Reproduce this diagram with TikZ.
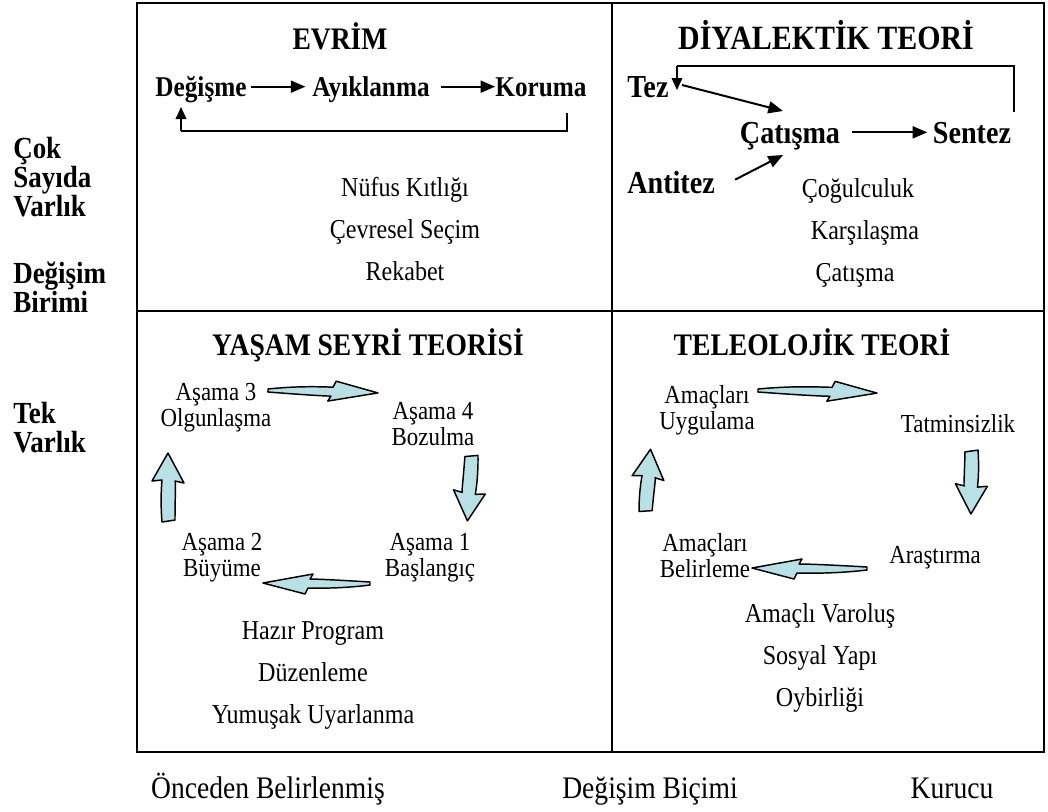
\documentclass[tikz,border=0pt]{standalone}
\usepackage{fontspec}
\setmainfont{Liberation Serif}[FakeStretch=0.88]
\usetikzlibrary{arrows.meta,calc}
\definecolor{cyanfill}{RGB}{185,224,228}

% flat block arrow of the cycle (left-right), tail at (0,0), tip at (#1,0)
\newcommand\hcycpath[1]{(0,-1) .. controls ({0.3*#1},-5) and ({0.5*#1},-4) .. ({#1-45},-4) -- ({#1-42},-10) -- (#1,1) -- ({#1-50},10) -- ({#1-47},5) .. controls ({0.5*#1},5) and ({0.3*#1},4) .. (0,2) -- cycle}
% broad block arrow of the cycle (up-down), tail at (0,0), tip at (#1,0)
\newcommand\vcycpath[1]{(0,-6) .. controls ({0.35*#1},-8) and ({0.6*#1},-6) .. ({#1-27},-6) -- ({#1-28},-16) -- (#1,0) -- ({#1-30},16) -- ({#1-28},7) .. controls ({0.6*#1},8) and ({0.35*#1},7) .. (2,7) -- cycle}

\begin{document}
\begin{tikzpicture}[x=0.75pt,y=-0.75pt,
  txt/.style={font=\fontsize{20.5}{24}\selectfont, inner sep=0pt, anchor=base},
  stage/.style={font=\fontsize{19.5}{19.5}\selectfont, inner sep=0pt, align=center},
  lbl/.style={font=\fontsize{21.5}{24}\bfseries\selectfont, inner sep=0pt, anchor=base},
  lblb/.style={font=\fontsize{24}{26}\bfseries\selectfont, inner sep=0pt, anchor=base},
  ttl/.style={font=\fontsize{23.5}{26}\bfseries\selectfont, inner sep=0pt, anchor=base},
  side/.style={font=\fontsize{23}{21.75}\bfseries\selectfont, inner sep=0pt, align=left, anchor=west},
  foot/.style={font=\fontsize{23.5}{26}\selectfont, inner sep=0pt, anchor=base},
  flow/.style={line width=1.5pt, -{Triangle[length=11pt,width=9pt]}},
  back/.style={line width=1.1pt},
  cyc/.style={draw=black, line width=1.1pt, fill=cyanfill, line join=round},
  frame/.style={line width=2.2pt}]
\useasboundingbox (0,0) rectangle (1048,811);

% frame and quadrants
\draw[frame] (137,3) rectangle (1044,752);
\draw[frame] (612,3) -- (612,752);
\draw[frame] (137,311) -- (1044,311);

% side labels
\node[side] (many) at (13,177) {Çok\\Sayıda\\Varlık};
\node[side] (unit) at (13,287) {Değişim\\Birimi};
\node[side] (single) at (13,428) {Tek\\Varlık};

% bottom labels
\node[foot] (pre) at (268,798) {Önceden Belirlenmiş};
\node[foot] (mode) at (650,798) {Değişim Biçimi};
\node[foot] (cons) at (952,798) {Kurucu};

% ---- EVRIM ----
\node[ttl] (evt) at (340,49) {EVRİM};
\node[lbl] (deg) at (201,96) {Değişme};
\node[lbl] (ayi) at (371,96) {Ayıklanma};
\node[lbl] (kor) at (541,96) {Koruma};
\coordinate (f1a) at ([xshift=3pt,yshift=7pt]deg.base east);
\coordinate (f1b) at ([xshift=-5pt,yshift=7pt]ayi.base west);
\coordinate (f2a) at ([xshift=8pt,yshift=7pt]ayi.base east);
\coordinate (f2b) at ([yshift=7pt]kor.base west);
\draw[flow] (f1a) -- (f1b);
\draw[flow] (f2a) -- (f2b);
\coordinate (kb) at (567,113);
\coordinate (kc) at (567,131);
\coordinate (dc) at (181,131);
\draw[back] (kb) -- (kc) -- (dc);
\draw[back, -{Triangle[length=9pt,width=8pt]}] (dc) -- (181,107);
\node[txt] (e1) at (405,196) {Nüfus Kıtlığı};
\node[txt] (e2) at (405,238) {Çevresel Seçim};
\node[txt] (e3) at (405,280) {Rekabet};

% ---- DIYALEKTIK ----
\node[ttl, font=\fontsize{25.5}{28}\bfseries\selectfont] (dit) at (826,49) {DİYALEKTİK TEORİ};
\node[lblb, anchor=base west] (tez) at (627,97) {Tez};
\node[lblb] (cat) at (790,143) {Çatışma};
\node[lblb] (sen) at (972,143) {Sentez};
\node[lblb, anchor=base west] (ant) at (627,193) {Antitez};
\coordinate (ct) at (783,111);
\coordinate (cb) at (783,155);
\draw[flow] ([xshift=10pt,yshift=9pt]tez.base east) -- (ct);
\draw[flow] ([xshift=15pt,yshift=10pt]ant.base east) -- (cb);
\draw[flow] ([xshift=9pt,yshift=8pt]cat.base east) -- ([xshift=-4pt,yshift=8pt]sen.base west);
\coordinate (st) at (1014,66);
\coordinate (tt) at (677,66);
\draw[back] (1014,112) -- (st) -- (tt);
\draw[back, -{Triangle[length=9pt,width=8pt]}] (tt) -- (677,90);
\node[txt] (d1) at (858,197) {Çoğulculuk};
\node[txt] (d2) at (865,239) {Karşılaşma};
\node[txt] (d3) at (855,281) {Çatışma};

% ---- YASAM SEYRI ----
\node[ttl] (yst) at (368,355) {YAŞAM SEYRİ TEORİSİ};
\node[stage] (a3) at (216,408) {Aşama 3\\Olgunlaşma};
\node[stage] (a4) at (433,424) {Aşama 4\\Bozulma};
\node[stage] (a2) at (222,558) {Aşama 2\\Büyüme};
\node[stage] (a1) at (430,558) {Aşama 1\\Başlangıç};
\draw[cyc, shift={(268,390)}, rotate=-1] \hcycpath{110};
\draw[cyc, shift={(472,455)}, rotate=-94] \vcycpath{66};
\draw[cyc, shift={(370,584)}, rotate=180] \hcycpath{107};
\draw[cyc, shift={(168,522)}, rotate=90] \vcycpath{69};
\node[txt] (y1) at (313,639) {Hazır Program};
\node[txt] (y2) at (313,681) {Düzenleme};
\node[txt] (y3) at (313,723) {Yumuşak Uyarlanma};

% ---- TELEOLOJIK ----
\node[ttl] (tet) at (812,355) {TELEOLOJİK TEORİ};
\node[stage] (au) at (707,410) {Amaçları\\Uygulama};
\node[stage] (tat) at (958,424) {Tatminsizlik};
\node[stage] (ab) at (705,556) {Amaçları\\Belirleme};
\node[stage] (ara) at (935,558) {Araştırma};
\draw[cyc, shift={(758,390)}, rotate=-1] \hcycpath{119};
\draw[cyc, shift={(867,569)}, rotate=180] \hcycpath{115};
\draw[cyc, shift={(972,450)}, rotate=-91] \vcycpath{64};
\draw[cyc, shift={(645,512)}, rotate=85] \vcycpath{63};
\node[txt] (t1) at (820,622) {Amaçlı Varoluş};
\node[txt] (t2) at (820,664) {Sosyal Yapı};
\node[txt] (t3) at (820,706) {Oybirliği};
\end{tikzpicture}
\end{document}
